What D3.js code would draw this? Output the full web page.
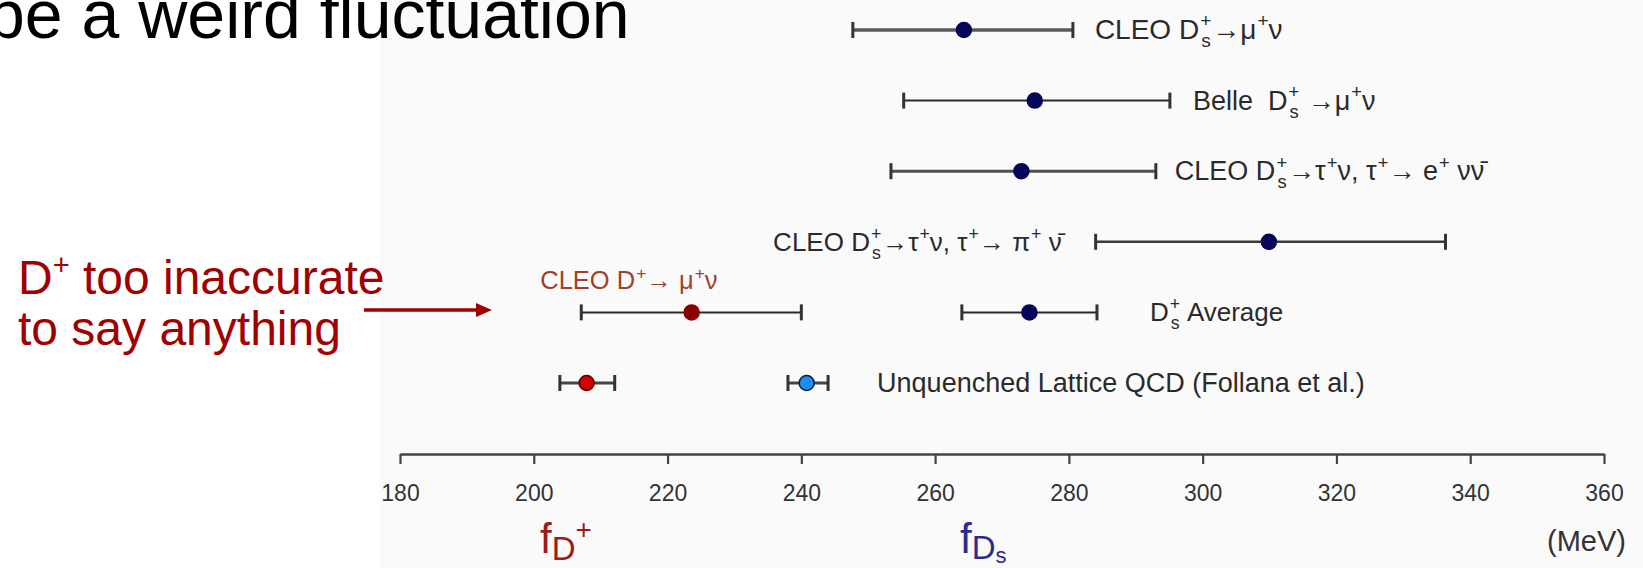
<!DOCTYPE html>
<html>
<head>
<meta charset="utf-8">
<script src="https://cdn.jsdelivr.net/npm/d3@7"></script>
<style>
  html, body { margin: 0; padding: 0; background: #ffffff; }
  svg { display: block; }
  text { font-family: "Liberation Sans", Arial, Helvetica, sans-serif; }
</style>
</head>
<body>
<svg id="chart" width="1643" height="568"></svg>
<script>
// ---------------- DATA ----------------
const rowKeys = ["r1", "r2", "r3", "r4", "r5", "r6"];
const pointNames = ["CLEO Ds→μν", "Belle Ds→μν", "CLEO Ds→τν,τ→eνν", "CLEO Ds→τν,τ→πν",
                    "CLEO D+→μν", "Ds Average", "Lattice fD+", "Lattice fDs"];
const pointRow     = ["r1", "r2", "r3", "r4", "r5", "r5", "r6", "r6"];
const centralValues = [264.3, 274.9, 272.9, 309.9, 223.6, 274.1, 207.9, 240.8];
const lowerValues   = [247.7, 255.3, 253.4, 284.0, 207.1, 264.0, 203.9, 238.0];
const upperValues   = [280.6, 295.1, 293.0, 336.3, 240.0, 284.2, 212.1, 244.0];
const xTicks = [180, 200, 220, 240, 260, 280, 300, 320, 340, 360];
const xDomain = [180, 360];

// label text pieces: [text, kind] kind: n normal, p sup, ps stacked sup/sub
const labelTexts = [
  [["CLEO D","n"],["+|s","ps"],["→μ","n"],["+","p"],["ν","n"]],
  [["Belle  D","n"],["+|s","ps"],[" →μ","n"],["+","p"],["ν","n"]],
  [["CLEO D","n"],["+|s","ps"],["→τ","n"],["+","p"],["ν, τ","n"],["+","p"],["→ e","n"],["+","p"],[" νν̄","n"]],
  [["CLEO D","n"],["+|s","ps"],["→τ","n"],["+","p"],["ν, τ","n"],["+","p"],["→ π","n"],["+","p"],[" ν̄","n"]],
  [["CLEO D","n"],["+","p"],["→ μ","n"],["+","p"],["ν","n"]],
  [["D","n"],["+|s","ps"],[" Average","n"]],
  null,
  [["Unquenched Lattice QCD (Follana et al.)","n"]]
];
const titleText = "be a weird fluctuation";
const noteLines = ["too inaccurate", "to say anything"];
const unitText = "(MeV)";

// ---------------- STYLE / LAYOUT ----------------
const W = 1643, H = 568;
const dotFill   = ["#05055a","#05055a","#05055a","#05055a","#8a0000","#05055a","#d00000","#1a90ea"];
const dotStroke = ["#05055a","#05055a","#05055a","#05055a","#8a0000","#05055a","#5a0000","#0a1a50"];
const barColor  = ["#5a5a5a","#2a2a2a","#505050","#3a3a3a","#2a2a2a","#2a2a2a","#444","#444"];
const barWidth  = [3.5, 2, 3, 2.5, 2, 2, 3, 3];
const labelPlace = [
  {side:"right", gap:22, size:28}, {side:"right", gap:23}, {side:"right", gap:19}, {side:"left", gap:34, size:26},
  {side:"above", gap:-41, dy:-23, color:"#a3402c", size:25.5}, {side:"right", gap:53, size:26},
  null, {side:"right", gap:49}
];

const svg = d3.select("#chart");

svg.append("rect").attr("x", 380).attr("y", 0).attr("width", W - 380).attr("height", H)
   .attr("fill", "#fafafa");

const x = d3.scaleLinear().domain(xDomain).range([400, 1604]);
const y = d3.scalePoint().domain(rowKeys).range([30, 383]);

// axis
const axisY = 454;
const axis = d3.axisBottom(x).tickValues(xTicks).tickFormat(d3.format("d"))
  .tickSize(10).tickPadding(21).tickSizeOuter(0);
const ag = svg.append("g").attr("transform", `translate(0,${axisY})`).call(axis);
ag.select(".domain").attr("stroke", "#444").attr("stroke-width", 2.5);
ag.selectAll(".tick line").attr("stroke", "#444").attr("stroke-width", 2.2);
ag.selectAll(".tick text").attr("fill", "#333").attr("font-size", 23)
  .attr("font-family", "Liberation Sans, Arial, sans-serif");

// error bars
const idx = d3.range(pointNames.length);
const bars = svg.append("g");
bars.selectAll("line.bar").data(idx).join("line").attr("class","bar")
  .attr("x1", i => x(lowerValues[i])).attr("x2", i => x(upperValues[i]))
  .attr("y1", i => y(pointRow[i])).attr("y2", i => y(pointRow[i]))
  .attr("stroke", i => barColor[i]).attr("stroke-width", i => barWidth[i]);
["lo","hi"].forEach(side => {
  bars.selectAll("line.cap" + side).data(idx).join("line").attr("class","cap" + side)
    .attr("x1", i => x(side === "lo" ? lowerValues[i] : upperValues[i]))
    .attr("x2", i => x(side === "lo" ? lowerValues[i] : upperValues[i]))
    .attr("y1", i => y(pointRow[i]) - 8).attr("y2", i => y(pointRow[i]) + 8)
    .attr("stroke", "#333").attr("stroke-width", 3);
});
bars.selectAll("circle").data(idx).join("circle")
  .attr("cx", i => x(centralValues[i])).attr("cy", i => y(pointRow[i]))
  .attr("r", 7.5).attr("fill", i => dotFill[i]).attr("stroke", i => dotStroke[i]).attr("stroke-width", 1.5);

function rich(parent, x0, y0, pieces, size, color, anchor) {
  const g = parent.append("g");
  let cx = 0;
  pieces.forEach(([t, k]) => {
    if (k === "n") {
      const el = g.append("text").attr("x", cx).attr("y", 0).attr("font-size", size).attr("fill", color).text(t);
      el.style("white-space", "pre");
      cx += el.node().getComputedTextLength();
    } else if (k === "p") {
      const el = g.append("text").attr("x", cx + 1).attr("y", -size * 0.42).attr("font-size", size * 0.68).attr("fill", color).text(t);
      cx += el.node().getComputedTextLength() + 1;
    } else if (k === "ps") {
      const [sp, sb] = t.split("|");
      const e1 = g.append("text").attr("x", cx + 1).attr("y", -size * 0.42).attr("font-size", size * 0.68).attr("fill", color).text(sp);
      const e2 = g.append("text").attr("x", cx + 2).attr("y", size * 0.3).attr("font-size", size * 0.68).attr("fill", color).text(sb);
      cx += Math.max(e1.node().getComputedTextLength(), e2.node().getComputedTextLength()) + 2;
    }
  });
  const dx = anchor === "end" ? -cx : 0;
  g.attr("transform", `translate(${x0 + dx},${y0})`);
  return g;
}

const labels = svg.append("g");
idx.forEach(i => {
  const lp = labelPlace[i];
  if (!lp || !labelTexts[i]) return;
  const yy = y(pointRow[i]);
  const size = lp.size || 27;
  const color = lp.color || "#2a2a2a";
  if (lp.side === "right") rich(labels, x(upperValues[i]) + lp.gap, yy + 9, labelTexts[i], size, color, "start");
  else if (lp.side === "left") rich(labels, x(lowerValues[i]) - lp.gap, yy + 9, labelTexts[i], size, color, "end");
  else rich(labels, x(lowerValues[i]) + lp.gap, yy + lp.dy, labelTexts[i], size, color, "start");
});

// title (cut off at top-left like the slide)
svg.append("text").attr("x", -13).attr("y", 38).attr("font-size", 68).attr("fill", "#000")
  .text(titleText);

// annotation in dark red
const note = svg.append("g");
const n1 = note.append("text").attr("x", 18).attr("y", 294).attr("font-size", 48).attr("fill", "#a00000");
n1.append("tspan").text("D");
n1.append("tspan").attr("font-size", 29).attr("dy", -19).text("+");
n1.append("tspan").attr("dy", 19).text(" " + noteLines[0]);
note.append("text").attr("x", 18).attr("y", 345).attr("font-size", 48).attr("fill", "#a00000").text(noteLines[1]);
note.append("line").attr("x1", 364).attr("x2", 478).attr("y1", 310).attr("y2", 310)
  .attr("stroke", "#a00000").attr("stroke-width", 3.5);
note.append("path").attr("d", "M476,303 L492,310 L476,317 Z").attr("fill", "#a00000");

// quantity labels under axis
const fdp = svg.append("text").attr("x", 540).attr("y", 553).attr("fill", "#a01818").attr("font-size", 42);
fdp.append("tspan").text("f");
fdp.append("tspan").attr("font-size", 33).attr("dy", 7).text("D");
fdp.append("tspan").attr("font-size", 28).attr("dy", -21).text("+");
const fds = svg.append("text").attr("x", 960).attr("y", 553).attr("fill", "#2c2c8c").attr("font-size", 42);
fds.append("tspan").text("f");
fds.append("tspan").attr("font-size", 33).attr("dy", 6).text("D");
fds.append("tspan").attr("font-size", 22).attr("dy", 4).text("s");

svg.append("text").attr("x", 1626).attr("y", 551).attr("text-anchor", "end")
  .attr("font-size", 29).attr("fill", "#333").text(unitText);
</script>
</body>
</html>
